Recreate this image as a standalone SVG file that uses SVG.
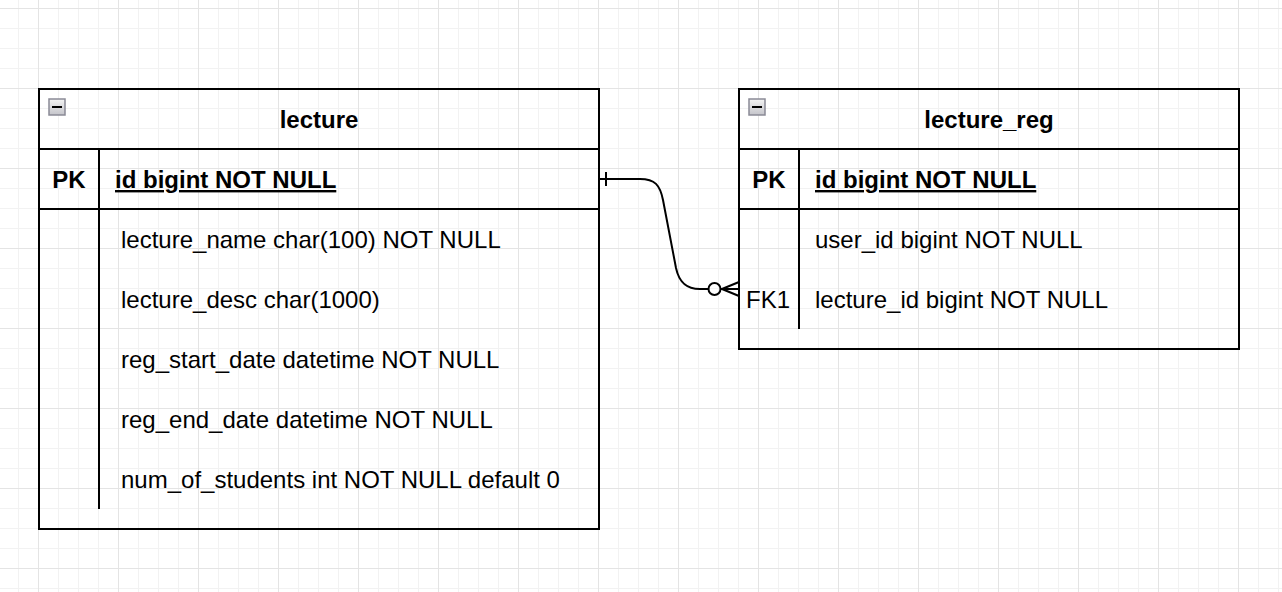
<svg xmlns="http://www.w3.org/2000/svg" width="1282" height="592" viewBox="0 0 1282 592">
<defs>
<pattern id="grid" x="38" y="8" width="80" height="80" patternUnits="userSpaceOnUse">
<rect x="20" y="0" width="1" height="80" fill="#f2f2f2"/>
<rect x="40" y="0" width="1" height="80" fill="#f2f2f2"/>
<rect x="60" y="0" width="1" height="80" fill="#f2f2f2"/>
<rect x="0" y="20" width="80" height="1" fill="#f2f2f2"/>
<rect x="0" y="40" width="80" height="1" fill="#f2f2f2"/>
<rect x="0" y="60" width="80" height="1" fill="#f2f2f2"/>
<rect x="0" y="0" width="1" height="80" fill="#e4e4e4"/>
<rect x="0" y="0" width="80" height="1" fill="#e4e4e4"/>
</pattern>
<linearGradient id="btn" x1="0" y1="0" x2="0" y2="1">
<stop offset="0" stop-color="#f4f4f4"/>
<stop offset="1" stop-color="#c4c4ca"/>
</linearGradient>
</defs>
<style>
.box{fill:none;stroke:#000;stroke-width:2}
.ln{stroke:#000;stroke-width:2;fill:none}
text{font-family:"Liberation Sans",Arial,Helvetica,sans-serif;font-size:24px;fill:#000}
.b{font-weight:bold}
.u{text-decoration:underline}
.btn{fill:url(#btn);stroke:#8a8a96;stroke-width:1.5}
</style>
<rect width="1282" height="592" fill="#fff"/>
<rect width="1282" height="592" fill="url(#grid)"/>

<g id="lecture">
<rect class="box" x="39" y="89" width="560" height="440" fill="#fff"/>
<line class="ln" x1="39" y1="149" x2="599" y2="149"/>
<line class="ln" x1="39" y1="209" x2="599" y2="209"/>
<line class="ln" x1="99" y1="149" x2="99" y2="209"/>
<line class="ln" x1="99" y1="209" x2="99" y2="509"/>
<rect class="btn" x="49" y="99" width="16" height="16"/>
<line x1="52" y1="107" x2="62" y2="107" stroke="#000" stroke-width="2"/>
<text class="b" x="319" y="128" text-anchor="middle">lecture</text>
<text class="b" x="69" y="188" text-anchor="middle">PK</text>
<text class="b u" x="115" y="188">id bigint NOT NULL</text>
<text x="121" y="248">lecture_name char(100) NOT NULL</text>
<text x="121" y="308">lecture_desc char(1000)</text>
<text x="121" y="368">reg_start_date datetime NOT NULL</text>
<text x="121" y="428">reg_end_date datetime NOT NULL</text>
<text x="121" y="488">num_of_students int NOT NULL default 0</text>
</g>

<g id="lecture_reg">
<rect class="box" x="739" y="89" width="500" height="260" fill="#fff"/>
<line class="ln" x1="739" y1="149" x2="1239" y2="149"/>
<line class="ln" x1="739" y1="209" x2="1239" y2="209"/>
<line class="ln" x1="799" y1="149" x2="799" y2="209"/>
<line class="ln" x1="799" y1="209" x2="799" y2="329"/>
<rect class="btn" x="749" y="99" width="16" height="16"/>
<line x1="752" y1="107" x2="762" y2="107" stroke="#000" stroke-width="2"/>
<text class="b" x="989" y="128" text-anchor="middle">lecture_reg</text>
<text class="b" x="769" y="188" text-anchor="middle">PK</text>
<text class="b u" x="815" y="188">id bigint NOT NULL</text>
<text x="815" y="248">user_id bigint NOT NULL</text>
<text x="746" y="308">FK1</text>
<text x="815" y="308">lecture_id bigint NOT NULL</text>
</g>

<g id="connectors">
<path class="ln" d="M599,179 H640 C655,179 660,185 663,200 L676,268 C679,282 686,289 700,289 H708.5"/>
<line class="ln" x1="606" y1="172" x2="606" y2="186"/>
<circle class="ln" cx="714.5" cy="289" r="6" fill="#fff"/>
<path class="ln" d="M720.5,289 H739 M722,289 L739,282 M722,289 L739,296"/>
</g>
</svg>
